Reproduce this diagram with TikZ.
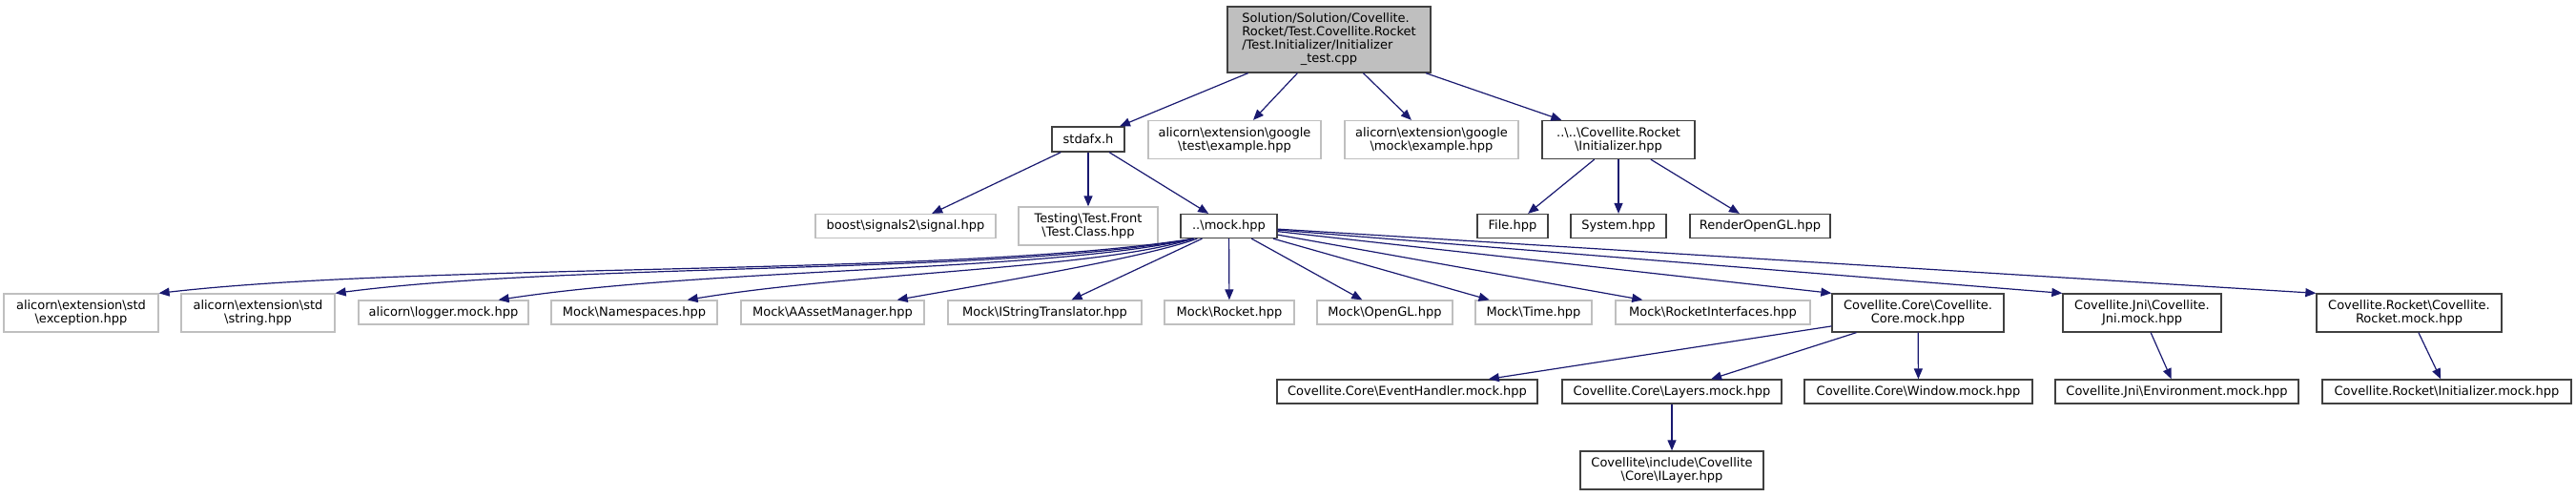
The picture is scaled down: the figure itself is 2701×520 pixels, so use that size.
\documentclass[tikz,border=0pt]{standalone}
\usepackage{fontspec}
\setmainfont{DejaVu Sans}
\usepackage{tikz}
\usetikzlibrary{arrows.meta}

\definecolor{incblue}{HTML}{191970}
\definecolor{incgray}{HTML}{BFBFBF}
\definecolor{incdark}{HTML}{404040}
\newcommand{\bks}{\textbackslash}

\tikzset{
  inc/.style={draw=incdark, line width=1.3pt, fill=white, inner sep=0pt,
    minimum height=25pt, align=center, font=\fontsize{13}{14}\selectfont},
  incmissing/.style={inc, draw=incgray},
  twoline/.style={minimum height=40pt},
  incarrow/.style={draw=incblue, line width=1.2pt, -{Triangle[length=11pt,width=9pt]}},
}

\begin{document}
\begin{tikzpicture}[x=1pt,y=-1pt]
    \useasboundingbox (0,0) rectangle (2701,520);
    % Root file
    \node[inc, fill=incgray, minimum width=213pt, minimum height=69pt] (root) at (1393.5,41.5)
      {\begin{tabular}{@{}l@{}}Solution/Solution/Covellite.\\Rocket/Test.Covellite.Rocket\\/Test.Initializer/Initializer\\\multicolumn{1}{@{}c@{}}{\_test.cpp}\end{tabular}};
    % Direct includes
    \node[inc, minimum width=76pt, minimum height=26pt] (stdafx) at (1141,146) {stdafx.h};
    \node[incmissing, twoline, minimum width=181pt] (gtest) at (1294.5,146.5) {alicorn\bks extension\bks google\\\bks test\bks example.hpp};
    \node[incmissing, twoline, minimum width=182pt] (gmock) at (1501,146.5) {alicorn\bks extension\bks google\\\bks mock\bks example.hpp};
    \node[inc, twoline, minimum width=160pt] (rinit) at (1697,146.5) {..\bks..\bks Covellite.Rocket\\\bks Initializer.hpp};
    % Third row
    \node[incmissing, minimum width=189pt] (boost) at (949.5,237) {boost\bks signals2\bks signal.hpp};
    \node[incmissing, twoline, minimum width=146pt] (testfront) at (1141,237) {Testing\bks Test.Front\\\bks Test.Class.hpp};
    \node[inc, minimum width=101pt] (mock) at (1288.5,237) {..\bks mock.hpp};
    \node[inc, minimum width=74pt] (file) at (1586,237) {File.hpp};
    \node[inc, minimum width=100pt] (system) at (1697,237) {System.hpp};
    \node[inc, minimum width=147pt] (render) at (1845.5,237) {RenderOpenGL.hpp};
    % Mock includes
    \node[incmissing, twoline, minimum width=162pt] (exception) at (85,328) {alicorn\bks extension\bks std\\\bks exception.hpp};
    \node[incmissing, twoline, minimum width=161pt] (string) at (270.5,328) {alicorn\bks extension\bks std\\\bks string.hpp};
    \node[incmissing, minimum width=178pt] (logger) at (465,327.5) {alicorn\bks logger.mock.hpp};
    \node[incmissing, minimum width=174pt] (namespaces) at (665,327.5) {Mock\bks Namespaces.hpp};
    \node[incmissing, minimum width=192pt] (aasset) at (873,327.5) {Mock\bks AAssetManager.hpp};
    \node[incmissing, minimum width=203pt] (istring) at (1095.5,327.5) {Mock\bks IStringTranslator.hpp};
    \node[incmissing, minimum width=136pt] (mrocket) at (1289,327.5) {Mock\bks Rocket.hpp};
    \node[incmissing, minimum width=142pt] (opengl) at (1452,327.5) {Mock\bks OpenGL.hpp};
    \node[incmissing, minimum width=122pt] (time) at (1608,327.5) {Mock\bks Time.hpp};
    \node[incmissing, minimum width=204pt] (rinterfaces) at (1796,327.5) {Mock\bks RocketInterfaces.hpp};
    \node[inc, twoline, minimum width=180pt] (coremock) at (2011,328) {Covellite.Core\bks Covellite.\\Core.mock.hpp};
    \node[inc, twoline, minimum width=166pt] (jnimock) at (2246,328) {Covellite.Jni\bks Covellite.\\Jni.mock.hpp};
    \node[inc, twoline, minimum width=194pt] (rocketmock) at (2526,328) {Covellite.Rocket\bks Covellite.\\Rocket.mock.hpp};
    % Fifth row
    \node[inc, minimum width=273pt] (eventhandler) at (1475.5,410.5) {Covellite.Core\bks EventHandler.mock.hpp};
    \node[inc, minimum width=230pt] (layers) at (1753,410.5) {Covellite.Core\bks Layers.mock.hpp};
    \node[inc, minimum width=239pt] (window) at (2011.5,410.5) {Covellite.Core\bks Window.mock.hpp};
    \node[inc, minimum width=255pt] (environment) at (2282.5,410.5) {Covellite.Jni\bks Environment.mock.hpp};
    \node[inc, minimum width=261pt] (initmock) at (2565.5,410.5) {Covellite.Rocket\bks Initializer.mock.hpp};
    \node[inc, twoline, minimum width=192pt] (ilayer) at (1753,493) {Covellite\bks include\bks Covellite\\\bks Core\bks ILayer.hpp};
    % Edges from the root and first level
    \foreach \t in {stdafx,gtest,gmock,rinit}
      \draw[incarrow] (root) -- (\t);
    \foreach \t in {boost,testfront,mock}
      \draw[incarrow] (stdafx) -- (\t);
    \foreach \t in {file,system,render}
      \draw[incarrow] (rinit) -- (\t);
    % Curved edges to the left
    \draw[incarrow] ([xshift=14pt]mock.south west) .. controls (1000,290) and (450,275) .. (exception.north east);
    \draw[incarrow] ([xshift=14pt]mock.south west) .. controls (1050,288) and (600,275) .. (string.north east);
    \draw[incarrow] ([xshift=14pt]mock.south west) .. controls (1100,285) and (750,280) .. ([xshift=-32pt]logger.north east);
    \draw[incarrow] ([xshift=14pt]mock.south west) .. controls (1150,282) and (900,285) .. ([xshift=-32pt]namespaces.north east);
    \draw[incarrow] ([xshift=18pt]mock.south west) .. controls (1200,270) and (1050,295) .. ([xshift=-29pt]aasset.north east);
    % Straight edges from mock
    \foreach \t in {istring,mrocket,opengl,time,rinterfaces}
      \draw[incarrow] (mock) -- (\t);
    \foreach \t in {coremock,jnimock,rocketmock}
      \draw[incarrow] (mock) -- (\t.north west);
    % Lower levels
    \foreach \t in {eventhandler,layers,window}
      \draw[incarrow] (coremock) -- (\t);
    \draw[incarrow] (jnimock) -- (environment);
    \draw[incarrow] (rocketmock) -- (initmock);
    \draw[incarrow] (layers) -- (ilayer);
  \end{tikzpicture}
\end{document}
